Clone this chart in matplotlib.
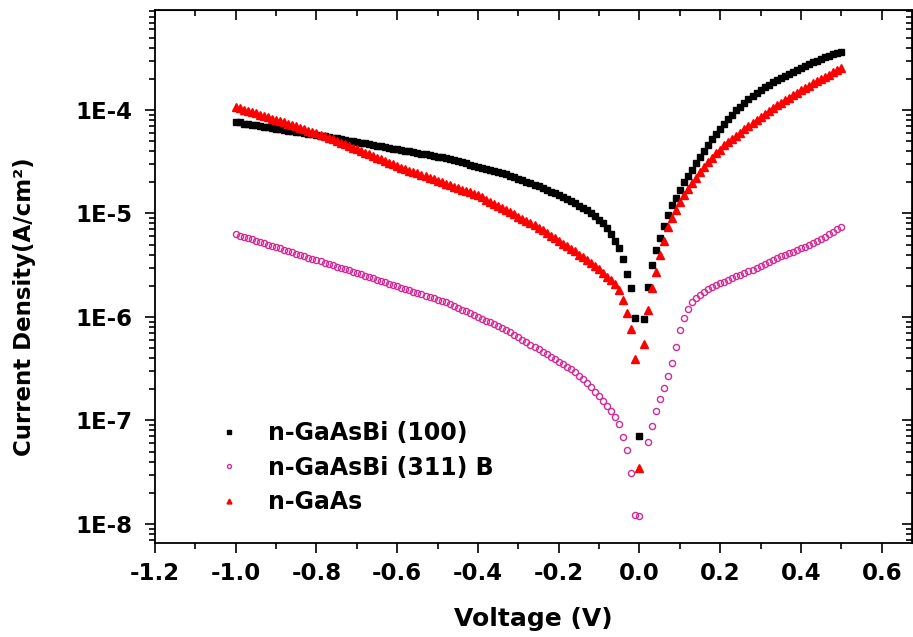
import numpy as np
import matplotlib
matplotlib.use("Agg")
import matplotlib.pyplot as plt
from matplotlib.ticker import MultipleLocator, LogLocator, FuncFormatter, NullFormatter

plt.rcParams['font.family'] = ['DejaVu Sans']
plt.rcParams['font.weight'] = 'bold'

# voltage sweep, -1.0 V to 0.5 V in 0.01 V steps
voltage = np.round(np.arange(-1.0, 0.505, 0.01), 2)

# n-GaAsBi (100)  (A/cm^2)
j_gaasbi_100 = [
    7.7e-5, 7.6e-5, 7.4e-5, 7.3e-5, 7.2e-5, 7.1e-5, 7.0e-5, 6.9e-5, 6.8e-5, 6.7e-5,
    6.6e-5, 6.5e-5, 6.4e-5, 6.3e-5, 6.25e-5, 6.15e-5, 6.1e-5, 6.0e-5, 5.9e-5, 5.8e-5,
    5.7e-5, 5.65e-5, 5.55e-5, 5.5e-5, 5.4e-5,
    5.32e-5, 5.23e-5, 5.15e-5, 5.07e-5, 4.99e-5, 4.91e-5, 4.83e-5, 4.75e-5, 4.67e-5, 4.60e-5,
    4.52e-5, 4.45e-5, 4.38e-5, 4.31e-5, 4.24e-5, 4.17e-5, 4.10e-5, 4.04e-5, 3.97e-5, 3.91e-5,
    3.85e-5, 3.78e-5, 3.72e-5, 3.66e-5, 3.60e-5, 3.55e-5, 3.49e-5,
    3.43e-5, 3.35e-5, 3.27e-5, 3.19e-5, 3.11e-5, 3.04e-5, 2.96e-5, 2.89e-5, 2.82e-5, 2.75e-5,
    2.69e-5, 2.62e-5, 2.56e-5, 2.50e-5, 2.44e-5, 2.38e-5, 2.30e-5, 2.23e-5, 2.16e-5, 2.09e-5,
    2.02e-5, 1.96e-5, 1.90e-5, 1.84e-5, 1.77e-5, 1.70e-5, 1.63e-5, 1.57e-5, 1.51e-5, 1.45e-5,
    1.39e-5, 1.33e-5, 1.25e-5, 1.19e-5, 1.13e-5, 1.07e-5, 1.01e-5, 9.4e-6, 8.7e-6, 8.0e-6,
    7.3e-6, 6.4e-6, 5.4e-6, 4.6e-6, 3.6e-6, 2.6e-6, 1.9e-6, 9.8e-7,
    7.1e-8,
    9.6e-7, 1.95e-6, 3.2e-6, 4.4e-6, 5.8e-6, 7.6e-6, 9.6e-6, 1.2e-5, 1.42e-5, 1.7e-5,
    2.0e-5, 2.3e-5, 2.65e-5, 3.05e-5, 3.55e-5, 4.0e-5, 4.6e-5, 5.2e-5, 5.8e-5, 6.5e-5,
    7.3e-5, 8.1e-5, 9.0e-5, 9.9e-5, 1.08e-4, 1.17e-4, 1.27e-4, 1.37e-4, 1.47e-4, 1.56e-4,
    1.66e-4, 1.76e-4, 1.85e-4, 1.95e-4, 2.04e-4, 2.14e-4, 2.23e-4, 2.34e-4, 2.45e-4, 2.56e-4,
    2.67e-4, 2.78e-4, 2.89e-4, 3.0e-4, 3.12e-4, 3.24e-4, 3.35e-4, 3.46e-4, 3.56e-4, 3.66e-4,
]

# n-GaAsBi (311) B
j_gaasbi_311b = [
    6.3e-6, 6.12e-6, 5.95e-6, 5.78e-6, 5.61e-6, 5.45e-6, 5.30e-6, 5.15e-6, 5.00e-6, 4.86e-6,
    4.72e-6, 4.59e-6, 4.46e-6, 4.33e-6, 4.21e-6, 4.09e-6, 3.97e-6, 3.86e-6, 3.75e-6, 3.64e-6,
    3.54e-6, 3.44e-6, 3.34e-6, 3.25e-6, 3.16e-6, 3.07e-6, 2.98e-6, 2.90e-6, 2.82e-6, 2.74e-6,
    2.66e-6, 2.58e-6, 2.51e-6, 2.43e-6, 2.36e-6, 2.29e-6, 2.23e-6, 2.16e-6, 2.10e-6, 2.04e-6,
    1.98e-6, 1.92e-6, 1.86e-6, 1.81e-6, 1.76e-6, 1.71e-6, 1.66e-6, 1.61e-6, 1.56e-6, 1.52e-6,
    1.47e-6, 1.43e-6, 1.39e-6, 1.33e-6, 1.28e-6, 1.23e-6, 1.18e-6, 1.13e-6, 1.09e-6, 1.04e-6,
    1.00e-6, 9.6e-7, 9.2e-7, 8.85e-7, 8.5e-7, 8.15e-7, 7.8e-7, 7.5e-7, 7.1e-7, 6.7e-7,
    6.35e-7, 6.0e-7, 5.7e-7, 5.4e-7, 5.1e-7, 4.85e-7, 4.6e-7, 4.35e-7, 4.1e-7, 3.9e-7,
    3.7e-7, 3.5e-7, 3.3e-7, 3.15e-7, 2.95e-7, 2.7e-7, 2.5e-7, 2.3e-7, 2.1e-7, 1.9e-7,
    1.72e-7, 1.55e-7, 1.38e-7, 1.22e-7, 1.08e-7, 9.3e-8, 6.9e-8, 5.2e-8, 3.1e-8, 1.23e-8,
    1.2e-8,
    np.nan, 6.2e-8, 8.9e-8, 1.23e-7, 1.6e-7, 2.06e-7, 2.7e-7, 3.6e-7, 5.1e-7, 7.5e-7,
    9.8e-7, 1.2e-6, 1.38e-6, 1.52e-6, 1.63e-6, 1.75e-6, 1.85e-6, 1.93e-6, 2.02e-6, 2.12e-6,
    2.2e-6, 2.28e-6, 2.37e-6, 2.46e-6, 2.56e-6, 2.66e-6, 2.76e-6, 2.86e-6, 2.97e-6, 3.1e-6,
    3.25e-6, 3.4e-6, 3.55e-6, 3.7e-6, 3.85e-6, 4.0e-6, 4.13e-6, 4.28e-6, 4.43e-6, 4.6e-6,
    4.75e-6, 4.95e-6, 5.15e-6, 5.4e-6, 5.65e-6, 5.95e-6, 6.3e-6, 6.6e-6, 7.0e-6, 7.4e-6,
]

# n-GaAs
j_gaas = [
    1.07e-4, 1.04e-4, 1.01e-4, 9.8e-5, 9.5e-5, 9.3e-5, 9.0e-5, 8.7e-5, 8.5e-5, 8.2e-5,
    8.0e-5, 7.8e-5, 7.6e-5, 7.4e-5, 7.2e-5, 7.0e-5, 6.75e-5, 6.54e-5, 6.33e-5, 6.13e-5,
    5.94e-5, 5.75e-5, 5.57e-5, 5.39e-5, 5.22e-5, 5.03e-5, 4.85e-5, 4.67e-5, 4.50e-5, 4.33e-5,
    4.17e-5, 4.02e-5, 3.87e-5, 3.73e-5, 3.59e-5, 3.46e-5, 3.33e-5, 3.21e-5, 3.09e-5, 2.98e-5,
    2.87e-5, 2.78e-5, 2.69e-5, 2.60e-5, 2.52e-5, 2.44e-5, 2.36e-5, 2.28e-5, 2.21e-5, 2.14e-5,
    2.07e-5, 2.00e-5, 1.94e-5, 1.88e-5, 1.82e-5, 1.76e-5, 1.70e-5, 1.65e-5, 1.60e-5, 1.55e-5,
    1.50e-5, 1.43e-5, 1.36e-5, 1.30e-5, 1.24e-5, 1.18e-5, 1.13e-5, 1.08e-5, 1.03e-5, 9.8e-6,
    9.3e-6, 8.9e-6, 8.5e-6, 8.1e-6, 7.7e-6, 7.3e-6, 6.9e-6, 6.5e-6, 6.1e-6, 5.75e-6,
    5.4e-6, 5.1e-6, 4.8e-6, 4.5e-6, 4.3e-6, 4.0e-6, 3.8e-6, 3.55e-6, 3.35e-6, 3.1e-6,
    2.9e-6, 2.65e-6, 2.45e-6, 2.3e-6, 2.1e-6, 1.83e-6, 1.45e-6, 1.1e-6, 7.6e-7, 3.9e-7,
    3.5e-8,
    5.5e-7, 1.17e-6, 1.9e-6, 2.7e-6, 4.0e-6, 5.4e-6, 7.4e-6, 9.0e-6, 1.08e-5, 1.28e-5,
    1.5e-5, 1.74e-5, 1.97e-5, 2.22e-5, 2.5e-5, 2.8e-5, 3.15e-5, 3.45e-5, 3.8e-5, 4.15e-5,
    4.55e-5, 4.9e-5, 5.25e-5, 5.6e-5, 6.05e-5, 6.5e-5, 7.0e-5, 7.5e-5, 8.0e-5, 8.6e-5,
    9.2e-5, 9.8e-5, 1.04e-4, 1.11e-4, 1.18e-4, 1.25e-4, 1.32e-4, 1.39e-4, 1.47e-4, 1.55e-4,
    1.63e-4, 1.72e-4, 1.81e-4, 1.9e-4, 2.0e-4, 2.1e-4, 2.2e-4, 2.31e-4, 2.43e-4, 2.56e-4,
]

assert len(j_gaasbi_100) == len(voltage)
assert len(j_gaasbi_311b) == len(voltage)
assert len(j_gaas) == len(voltage)

fig = plt.figure(figsize=(9.13, 6.37), dpi=100)
ax = fig.add_axes([155/913, 1-543/637, (912-155)/913, (543-10)/637])

ax.plot(voltage, j_gaasbi_100, ls='none', marker='s', ms=4.8, color='black',
        mec='black', label='n-GaAsBi (100)', zorder=3)
ax.plot(voltage, j_gaasbi_311b, ls='none', marker='o', ms=4.4, mfc='none',
        mec='#d42a96', mew=1.0, label='n-GaAsBi (311) B', zorder=2)
ax.plot(voltage, j_gaas, ls='none', marker='^', ms=5.4, color='#ff0000',
        mec='#ff0000', label='n-GaAs', zorder=4)

ax.set_yscale('log')
ax.set_xlim(-1.2, 0.675)
ax.set_ylim(6.54e-9, 9.25e-4)

ax.xaxis.set_major_locator(MultipleLocator(0.2))
ax.xaxis.set_minor_locator(MultipleLocator(0.1))
ax.xaxis.set_major_formatter(FuncFormatter(lambda v, p: f"{v:.1f}"))
ax.yaxis.set_major_locator(LogLocator(base=10, numticks=20))
ax.yaxis.set_minor_locator(LogLocator(base=10, subs=np.arange(2, 10), numticks=20))
ax.yaxis.set_major_formatter(FuncFormatter(lambda v, p: f"1E{int(round(np.log10(v)))}"))
ax.yaxis.set_minor_formatter(NullFormatter())

ax.tick_params(which='both', direction='out', top=False, right=False, width=1.2,
               labelsize=16.5)
ax.tick_params(which='major', length=7)
ax.tick_params(which='minor', length=4)
ax.tick_params(axis='x', which='major', pad=7)
ax.tick_params(axis='y', which='major', pad=9)
for s in ax.spines.values():
    s.set_linewidth(1.3)

# top and right axes, ticks pointing in
secx = ax.secondary_xaxis('top')
secx.xaxis.set_major_locator(MultipleLocator(0.2))
secx.xaxis.set_minor_locator(MultipleLocator(0.1))
secx.tick_params(which='both', direction='in', labeltop=False, width=1.2)
secx.tick_params(which='major', length=7)
secx.tick_params(which='minor', length=4)
secy = ax.secondary_yaxis('right')
secy.tick_params(which='both', direction='in', labelright=False, width=1.2)
secy.tick_params(which='major', length=7)
secy.tick_params(which='minor', length=4)
secy.yaxis.set_minor_formatter(NullFormatter())

ax.set_xlabel('Voltage (V)', fontsize=18, fontweight='bold')
ax.set_ylabel('Current Density(A/cm²)', fontsize=16.5, fontweight='bold')
ax.xaxis.set_label_coords(0.5, -0.12)
ax.yaxis.set_label_coords(-0.157, 0.443)

ax.legend(loc='upper left', bbox_to_anchor=(217/913, 1-421/637),
          bbox_transform=fig.transFigure, frameon=False, fontsize=17,
          handlelength=1.0, handletextpad=1.15, labelspacing=0.45,
          borderpad=0, borderaxespad=0, markerscale=0.65)

fig.savefig('out.png', dpi=100)
